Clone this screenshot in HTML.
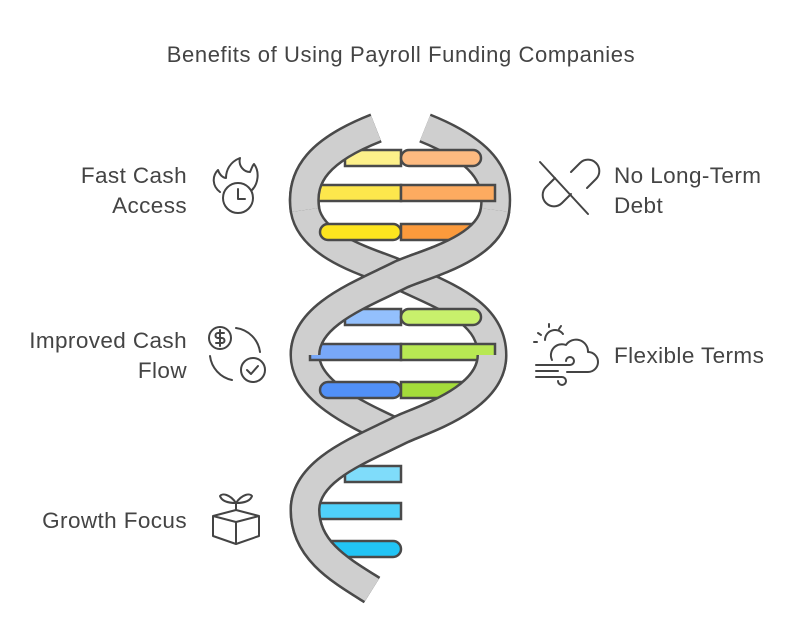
<!DOCTYPE html>
<html><head><meta charset="utf-8"><style>
body{margin:0;background:#fff;width:798px;height:637px;overflow:hidden;font-family:"Liberation Sans",sans-serif;}
svg{position:absolute;left:0;top:0}
</style></head><body>
<svg width="798" height="637" viewBox="0 0 798 637" xmlns="http://www.w3.org/2000/svg">
<text x="401" y="62" text-anchor="middle" font-size="22" letter-spacing="0.6" fill="#444" font-family="Liberation Sans">Benefits of Using Payroll Funding Companies</text>
<g font-size="22.5" letter-spacing="0.4" fill="#444" font-family="Liberation Sans">
<text x="187" y="183" text-anchor="end">Fast Cash</text>
<text x="187" y="213" text-anchor="end">Access</text>
<text x="614" y="183">No Long-Term</text>
<text x="614" y="213">Debt</text>
<text x="187" y="348" text-anchor="end">Improved Cash</text>
<text x="187" y="378" text-anchor="end">Flow</text>
<text x="614" y="363">Flexible Terms</text>
<text x="187" y="528" text-anchor="end">Growth Focus</text>
</g>
<!-- back strands -->
<g fill="none" stroke-linecap="butt">
<path d="M376,128 C320,150 300,175 305,210 C312,250 380,265 400,275 C440,295 492,310 492,355 C492,400 420,420 400,430 C360,450 305,470 305,510 C305,550 340,570 372,590" stroke="#4a4a4a" stroke-width="31"/>
<path d="M376,128 C320,150 300,175 305,210 C312,250 380,265 400,275 C440,295 492,310 492,355 C492,400 420,420 400,430 C360,450 305,470 305,510 C305,550 340,570 372,590" stroke="#cfcfcf" stroke-width="26"/>
<path d="M425,128 C480,150 500,175 495,210 C490,250 420,265 400,275 C360,295 305,315 305,355 C305,395 370,420 400,435" stroke="#4a4a4a" stroke-width="31"/>
<path d="M425,128 C480,150 500,175 495,210 C490,250 420,265 400,275 C360,295 305,315 305,355 C305,395 370,420 400,435" stroke="#cfcfcf" stroke-width="26"/>
</g>
<!-- bars -->
<g stroke="#4a4a4a" stroke-width="2.5">
<rect x="345" y="150" width="56" height="16" fill="#fdf08a"/>
<rect x="401" y="150" width="80" height="16" rx="8" fill="#fdba80"/>
<rect x="310" y="185" width="91" height="16" fill="#fde74c"/>
<rect x="401" y="185" width="94" height="16" fill="#fdab60"/>
<rect x="320" y="224" width="81" height="16" rx="8" fill="#fde51f"/>
<rect x="401" y="224" width="70" height="16" fill="#fb9a3c"/>
<rect x="345" y="309" width="56" height="16" fill="#93c0fd"/>
<rect x="401" y="309" width="80" height="16" rx="8" fill="#c8f06c"/>
<rect x="310" y="344" width="91" height="16" fill="#78a8f8"/>
<rect x="401" y="344" width="94" height="16" fill="#b8e853"/>
<rect x="320" y="382" width="81" height="16" rx="8" fill="#5190f7"/>
<rect x="401" y="382" width="70" height="16" fill="#a4dc3a"/>
<rect x="345" y="466" width="56" height="16" fill="#7fdcfa"/>
<rect x="310" y="503" width="91" height="16" fill="#4fd1fa"/>
<rect x="320" y="541" width="81" height="16" rx="8" fill="#22c4f5"/>
</g>
<!-- front strands -->
<g fill="none" stroke-linecap="butt">
<path d="M376,128 C320,150 300,175 305,210" stroke="#4a4a4a" stroke-width="31"/>
<path d="M376,128 C320,150 300,175 305,210" stroke="#cfcfcf" stroke-width="26"/>
<path d="M495,210 C490,250 420,265 400,275 C360,295 305,315 305,355" stroke="#4a4a4a" stroke-width="31"/>
<path d="M495,210 C490,250 420,265 400,275 C360,295 305,315 305,355" stroke="#cfcfcf" stroke-width="26"/>
<path d="M492,355 C492,400 420,420 400,430 C360,450 305,470 305,510 C305,550 340,570 372,590" stroke="#4a4a4a" stroke-width="31"/>
<path d="M492,355 C492,400 420,420 400,430 C360,450 305,470 305,510 C305,550 340,570 372,590" stroke="#cfcfcf" stroke-width="26"/>
</g>
<!-- icons -->
<g fill="none" stroke="#444" stroke-width="2" stroke-linecap="round" stroke-linejoin="round">
<path d="M220,192 C212,186 212,176 218,170 C220,176 224,178 226,178 C226,170 230,162 240,158 C238,166 244,172 250,172 C252,168 252,166 254,164 C260,172 258,184 252,190"/>
<circle cx="238" cy="198" r="15"/><path d="M238,189 V199 H245"/>
<path d="M540,162 L588,214"/><path d="M555,178 L546,187 A11,11 0 0 0 562,203 L571,194"/><path d="M571,172 L580,163 A11,11 0 0 1 596,179 L587,188"/>
<circle cx="220" cy="338" r="11"/><path d="M224,333 H218 A2.5,2.5 0 0 0 218,338 H222 A2.5,2.5 0 0 1 222,343 H216 M220,330 V346"/>
<path d="M236,328 A28,28 0 0 1 260,352"/><path d="M210,356 A28,28 0 0 0 232,380"/>
<circle cx="253" cy="370" r="12"/><path d="M247,370 L251,374 L258,366"/>
<path d="M545,340 A10,10 0 0 1 563,334"/><path d="M538,333 L541,335 M549,324 L549,327 M561,326 L559,329 M534,342 L537,342"/>
<path d="M552,360 A11,11 0 0 1 566,345 A12,12 0 0 1 588,352 A9,9 0 0 1 588,372 L567,372"/>
<path d="M536,365 H570 A4,4 0 1 0 566,361 M536,371 H558 M536,377 H562 A4,4 0 1 1 558,381"/>
<path d="M213,516 L236,510 L259,516 L236,522 Z M213,516 V536 L236,544 L259,536 V516 M236,522 V544"/>
<path d="M236,510 V503 M236,503 C230,494 222,493 220,496 C222,502 230,503 236,503 C242,503 250,502 252,496 C250,493 242,494 236,503"/>
</g>
</svg>
</body></html>
